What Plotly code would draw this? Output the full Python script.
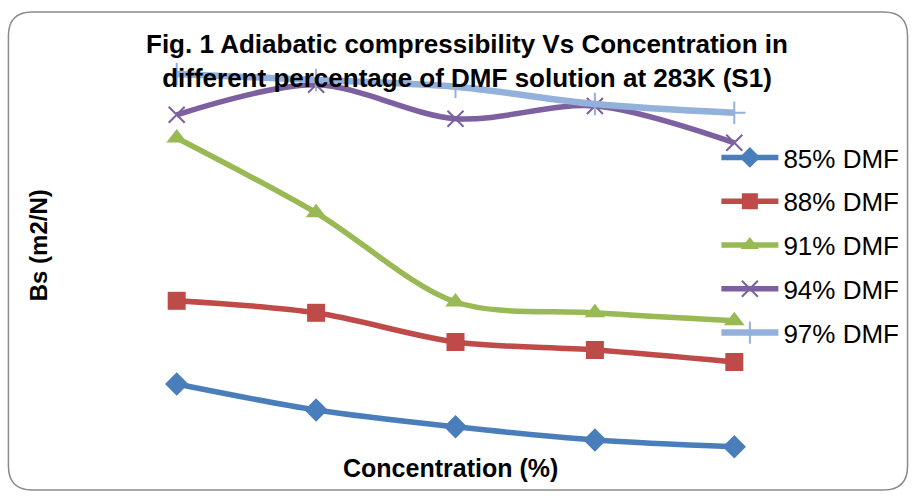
import plotly.graph_objects as go

# Concentration steps (category positions along the x axis)
concentration = [1, 2, 3, 4, 5]

# Adiabatic compressibility, arbitrary units, per DMF percentage
bs_85 = [19.0, 12.5, 8.3, 5.0, 3.3]
bs_88 = [39.8, 36.8, 29.5, 27.5, 24.5]
bs_91 = [80.5, 61.8, 39.5, 36.8, 34.8]
bs_94 = [86.3, 93.8, 85.3, 88.5, 79.3]
bs_97 = [96.5, 95.0, 93.3, 89.0, 86.8]

series_names = ["85% DMF", "88% DMF", "91% DMF", "94% DMF", "97% DMF"]
series_values = [bs_85, bs_88, bs_91, bs_94, bs_97]
colors = ["#4A7EBB", "#BE4B48", "#98B954", "#7D60A0", "#93B1DA"]
symbols = ["diamond", "square", "triangle-up", "x-thin-open", "cross-thin-open"]
msizes = [18, 18, 18, 16, 16]

W, H = 916, 498
L, R, T, B = 107, 109, 60, 38

fig = go.Figure()
for i, (name, vals) in enumerate(zip(series_names, series_values)):
    thin = symbols[i].endswith("open")
    fig.add_trace(go.Scatter(
        x=concentration, y=vals, name=name,
        mode="lines+markers",
        line=dict(color=colors[i], width=5.5 if i < 4 else 6.5, shape="spline", smoothing=0.9),
        marker=dict(symbol=symbols[i], size=msizes[i], color=colors[i],
                    line=dict(color=colors[i], width=2 if thin else 0)),
        legendgroup=name,
    ))

pw, ph = W - L - R, H - T - B
def px_x(p):
    return (p - L) / pw
def px_y(p):
    return (H - B - p) / ph

# rounded outer frame
x0, x1 = px_x(8), px_x(911)
y0, y1 = px_y(490), px_y(12)
rx, ry = 24 / pw, 24 / ph
frame = (f"M{x0+rx},{y1} L{x1-rx},{y1} Q{x1},{y1} {x1},{y1-ry} "
         f"L{x1},{y0+ry} Q{x1},{y0} {x1-rx},{y0} L{x0+rx},{y0} "
         f"Q{x0},{y0} {x0},{y0+ry} L{x0},{y1-ry} Q{x0},{y1} {x0+rx},{y1} Z")

fig.update_layout(
    width=W, height=H,
    margin=dict(l=L, r=R, t=T, b=B),
    paper_bgcolor="white", plot_bgcolor="white",
    font=dict(family="Liberation Sans, Arial, sans-serif", color="black"),
    xaxis=dict(range=[0.5, 5.5], showticklabels=False, showgrid=False,
               zeroline=False, showline=False),
    yaxis=dict(range=[0, 100], showticklabels=False, showgrid=False,
               zeroline=False, showline=False),
    legend=dict(x=px_x(719), xanchor="left", y=px_y(134), yanchor="top",
                font=dict(size=26), tracegroupgap=7, itemwidth=57,
                bgcolor="rgba(0,0,0,0)"),
    shapes=[dict(type="path", xref="paper", yref="paper", path=frame,
                 line=dict(color="#8A8A8A", width=1.5), fillcolor="rgba(0,0,0,0)")],
    annotations=[
        dict(text="<b>Fig. 1 Adiabatic compressibility Vs Concentration in<br>"
                  "different percentage of DMF solution at 283K (S1)</b>",
             xref="paper", yref="paper", x=px_x(469), y=px_y(61),
             xanchor="center", yanchor="middle", showarrow=False,
             font=dict(size=26)),
        dict(text="<b>Concentration (%)</b>", xref="paper", yref="paper",
             x=px_x(452), y=px_y(468), xanchor="center", yanchor="middle",
             showarrow=False, font=dict(size=25)),
        dict(text="<b>Bs (m2/N)</b>", xref="paper", yref="paper",
             x=px_x(38), y=px_y(245), xanchor="center", yanchor="middle",
             textangle=-90, showarrow=False, font=dict(size=24)),
    ],
)

fig.write_html("out.html")
